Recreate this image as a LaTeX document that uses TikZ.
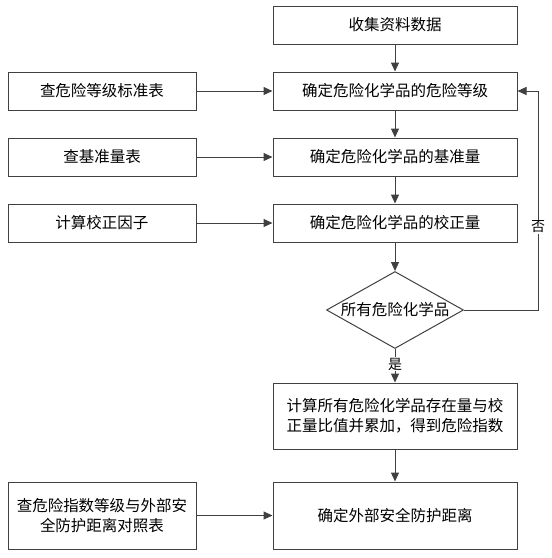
\documentclass[tikz,border=0pt]{standalone}
\usepackage{fontspec}
\setmainfont{Noto Sans CJK SC}
\usetikzlibrary{arrows.meta,shapes.geometric}

\begin{document}
\begin{tikzpicture}[x=1pt, y=-1pt,
    box/.style={draw=black!75, line width=1pt, minimum width=244pt, minimum height=38pt, inner sep=2pt, align=center, font=\fontsize{15.5}{20}\selectfont},
    side/.style={box, minimum width=188pt},
    check/.style={diamond, draw=black!75, line width=1pt, aspect=1.78, minimum width=137pt, minimum height=77pt, inner sep=0pt, font=\fontsize{15.5}{20}\selectfont},
    flow/.style={draw=black!75, line width=1pt, -{Triangle[length=9pt, width=8pt]}},
    tag/.style={fill=white, inner sep=1pt, font=\fontsize{14}{16}\selectfont}]
    \useasboundingbox (0,0) rectangle (552,558);

    \node[box] (collect) at (395, 25) {收集资料数据};
    \node[box] (grade) at (395, 91) {确定危险化学品的危险等级};
    \node[box] (base) at (395, 157) {确定危险化学品的基准量};
    \node[box] (corr) at (395, 223) {确定危险化学品的校正量};
    \node[check] (all) at (395, 310) {所有危险化学品};
    \node[box, minimum height=66pt] (index) at (395, 416) {计算所有危险化学品存在量与校\\正量比值并累加，得到危险指数};
    \node[box, minimum height=67pt] (dist) at (395, 515.5) {确定外部安全防护距离};

    \node[side] (gradetab) at (102, 91) {查危险等级标准表};
    \node[side] (basetab) at (102, 157) {查基准量表};
    \node[side] (factor) at (102, 223) {计算校正因子};
    \node[side, minimum height=67pt] (disttab) at (102, 515.5) {查危险指数等级与外部安\\全防护距离对照表};

    \coordinate (back) at (538, 310);

    \draw[flow] (collect) -- (grade);
    \draw[flow] (grade) -- (base);
    \draw[flow] (base) -- (corr);
    \draw[flow] (corr) -- (all);
    \draw[flow] (all) -- (index) node[tag, pos=0.45] {是};
    \draw[flow] (index) -- (dist);

    \draw[flow] (gradetab) -- (grade);
    \draw[flow] (basetab) -- (base);
    \draw[flow] (factor) -- (corr);
    \draw[flow] (disttab) -- (dist);

    \draw[flow] (all.east) -- (back) |- (grade.east) node[tag, pos=0.19] {否};
\end{tikzpicture}
\end{document}
